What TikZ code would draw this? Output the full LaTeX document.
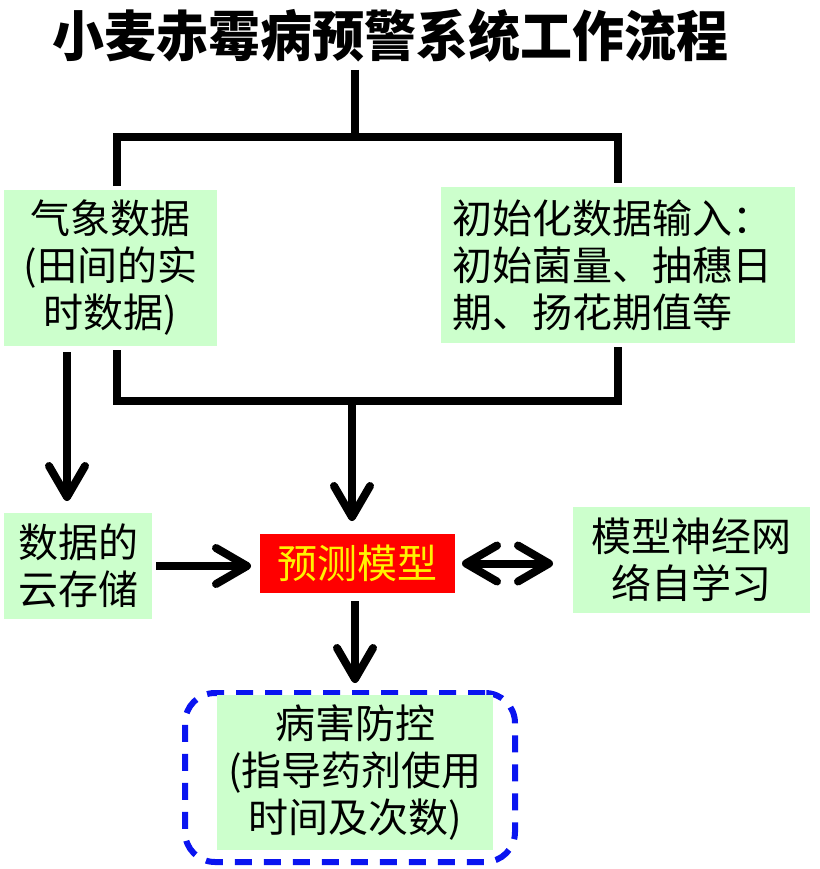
\documentclass[tikz,border=0pt]{standalone}
\usepackage{fontspec}
\newfontfamily\cjk{Noto Sans CJK SC}
\usetikzlibrary{arrows.meta}
\definecolor{boxgreen}{HTML}{CCFFCC}
\definecolor{framblue}{HTML}{0A14F0}

\begin{document}
\begin{tikzpicture}[x=1pt, y=-1pt, line width=8pt,
    every node/.style={font=\cjk\fontsize{40}{47}\selectfont, inner sep=0pt, align=center},
    greenbox/.style={fill=boxgreen},
    bar/.style={draw=black},
    barb/.tip={Straight Barb[length=31pt, width=36pt, round]},
    arr/.style={-barb},
    darr/.style={barb-barb}]
    \useasboundingbox (0,0) rectangle (819,869);

    % 1. 标题
    \node[font=\cjk\bfseries\fontsize{52}{60}\selectfont, yscale=1.05] (title) at (390,36) {小麦赤霉病预警系统工作流程};

    % 2. 方框
    \node[greenbox, minimum width=213, minimum height=156] (weather) at (110.5,268) {气象数据\\(田间的实\\时数据)};
    \node[greenbox, minimum width=354, minimum height=156, text width=332, align=left] (init) at (618,265) {初始化数据输入：\\初始菌量、抽穗日\\期、扬花期值等};
    \node[greenbox, minimum width=148, minimum height=106] (store) at (78,566) {数据的\\云存储};
    \node[fill=red, text=yellow, minimum width=195, minimum height=59] (model) at (357.5,563.5) {预测模型};
    \node[greenbox, minimum width=237, minimum height=106] (learn) at (691.5,560) {模型神经网\\络自学习};
    \node[draw=framblue, line width=6pt, dash pattern=on 17pt off 12pt, rounded corners=30pt,
          minimum width=330, minimum height=169] (frame) at (350,777.5) {};
    \node[greenbox, minimum width=276, minimum height=155] (control) at (355,772.5) {病害防控\\(指导药剂使用\\时间及次数)};

    % 3. 辅助坐标
    \coordinate (top) at (355,70);
    \coordinate (split) at (355,137);
    \coordinate (merge) at (352,401);
    \coordinate (lx) at (117,0);
    \coordinate (rx) at (618,0);
    \coordinate (dx) at (67,0);

    % 4. 连线
    \draw[bar] (top) -- (split);
    \draw[bar] (weather.north -| lx) |- (split -| rx) -- (init.north -| rx);
    \draw[bar] (weather.south -| lx) |- (merge -| rx) -- (init.south -| rx);
    \draw[arr, shorten >=9pt] (merge) -- (model.north -| merge);
    \draw[arr, shorten <=2pt, shorten >=8pt] (weather.south -| dx) -- (store.north -| dx);
    \draw[arr, shorten >=5pt] (store.east) -- (store.east -| model.west);
    \draw[darr, shorten <=3pt, shorten >=16pt] (model.east) -- (model.east -| learn.west);
    \draw[arr, shorten <=4pt, shorten >=8pt] (model.south -| control) -- (control.north);
\end{tikzpicture}
\end{document}
